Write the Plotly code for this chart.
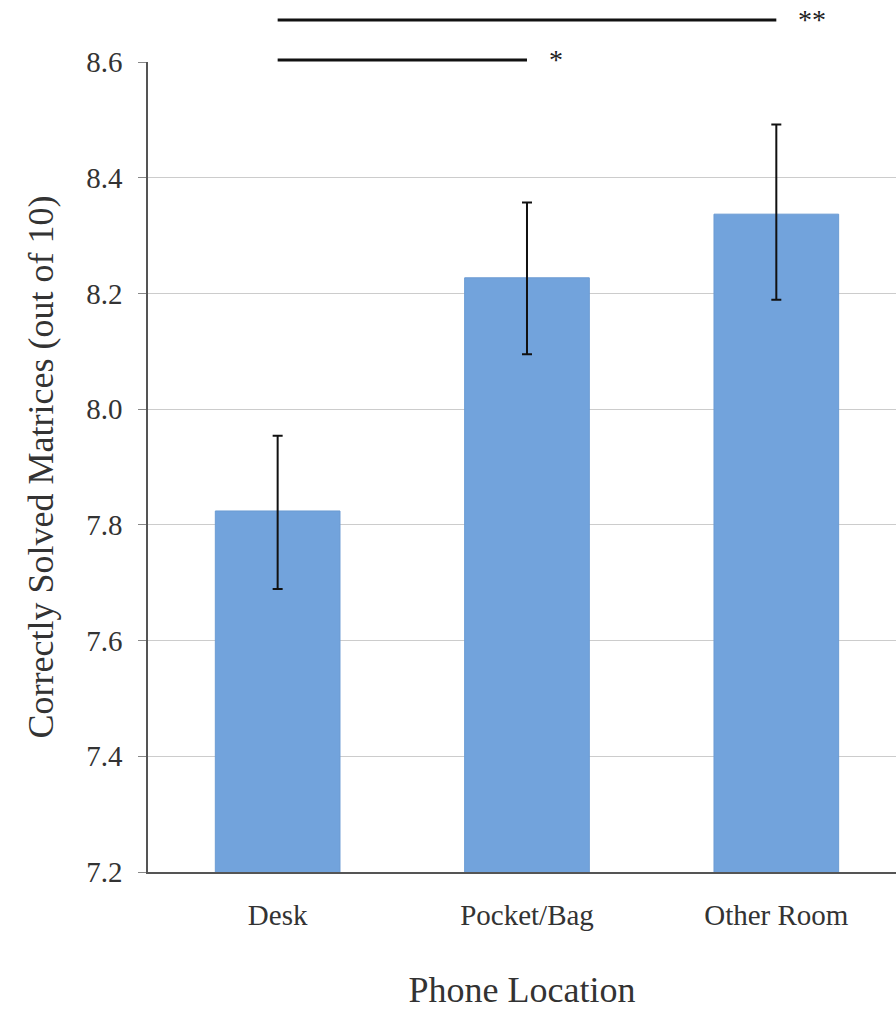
import plotly.graph_objects as go

categories = ["Desk", "Pocket/Bag", "Other Room"]
means = [7.824, 8.227, 8.337]
err_plus = [0.13, 0.13, 0.155]
err_minus = [0.135, 0.132, 0.148]
y_ticks = [7.2, 7.4, 7.6, 7.8, 8.0, 8.2, 8.4, 8.6]
y_tick_labels = ["7.2", "7.4", "7.6", "7.8", "8.0", "8.2", "8.4", "8.6"]
# significance brackets: (from category index, to category index, label)
sig_pairs = [(0, 2, "**"), (0, 1, "*")]
sig_levels = [1.052, 1.0025]

FONT = "Liberation Serif, Times New Roman, serif"

fig = go.Figure()
fig.add_trace(go.Bar(
    x=categories,
    y=means,
    width=0.5,
    marker=dict(color="#72a3dc", line=dict(color="#6b9bd3", width=1)),
    error_y=dict(type="data", symmetric=False, array=err_plus, arrayminus=err_minus,
                 color="#111111", thickness=2, width=5),
))

for (a, b, lab), lev in zip(sig_pairs, sig_levels):
    fig.add_shape(type="line", xref="x", yref="paper",
                  x0=categories[a], x1=categories[b], y0=lev, y1=lev,
                  line=dict(color="#111111", width=3), layer="above")
    fig.add_annotation(xref="x", yref="paper", x=categories[b], y=lev,
                       text=lab, showarrow=False, xanchor="left", yanchor="middle",
                       xshift=20, yshift=0,
                       font=dict(family=FONT, size=28, color="#222222"))

fig.update_layout(
    width=896, height=1010,
    margin=dict(l=148, r=0, t=62, b=138),
    paper_bgcolor="white", plot_bgcolor="white",
    showlegend=False,
    font=dict(family=FONT, color="#333333"),
    xaxis=dict(
        range=[-0.52, 2.48],
        showline=True, linecolor="#555555", linewidth=1.5,
        ticks="", showgrid=False,
        tickfont=dict(family=FONT, size=29, color="#333333"),
        ticklabelstandoff=16,
        title=dict(text="Phone Location", font=dict(family=FONT, size=36, color="#333333"), standoff=55),
    ),
    yaxis=dict(
        range=[7.2, 8.6],
        tickvals=y_ticks, ticktext=y_tick_labels,
        showline=True, linecolor="#555555", linewidth=1.5,
        ticks="outside", ticklen=8, tickcolor="#888888",
        showgrid=True, gridcolor="#cccccc", gridwidth=1,
        zeroline=False,
        tickfont=dict(family=FONT, size=29, color="#333333"),
        ticklabelstandoff=10,
        title=dict(text="Correctly Solved Matrices (out of 10)", font=dict(family=FONT, size=36, color="#333333"), standoff=22),
    ),
)

fig.write_html("out.html")
